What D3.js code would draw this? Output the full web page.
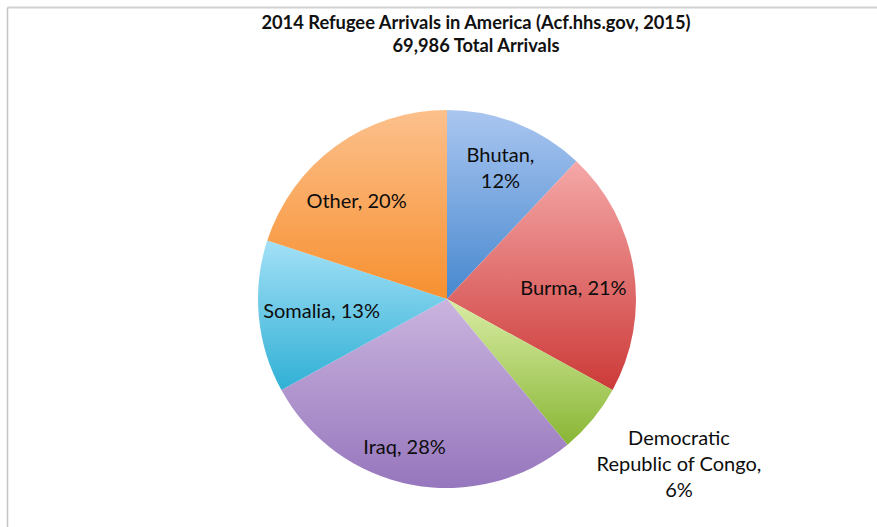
<!DOCTYPE html>
<html>
<head>
<meta charset="utf-8">
<script src="https://cdn.jsdelivr.net/npm/d3@7"></script>
<style>
  body { margin: 0; background: #fff; }
  svg { display: block; }
</style>
</head>
<body>
<svg id="chart"></svg>
<script>
const countries = ['Bhutan', 'Burma', 'Democratic Republic of Congo', 'Iraq', 'Somalia', 'Other']
const shares = [12, 21, 6, 28, 13, 20]   // percent of 69,986 arrivals
const titleLines = ['2014 Refugee Arrivals in America (Acf.hhs.gov, 2015)', '69,986 Total Arrivals']

// top / bottom gradient colours per slice
const topColors = ['#aac6f0', '#f5a8a8', '#d9eca4', '#cab4de', '#a3e0f6', '#fcc08c']
const bottomColors = ['#4788cf', '#cc3a38', '#88b634', '#9676bd', '#30b0d5', '#f79030']

const width = 877, height = 527
const cx = 447, cy = 299, radius = 189

const svg = d3.select('#chart')
    .attr('width', width)
    .attr('height', height)

// frame lines (top + left)
svg.append('line').attr('x1', 7.5).attr('x2', width).attr('y1', 7.5).attr('y2', 7.5)
    .attr('stroke', '#d2d2d2').attr('stroke-width', 2)
svg.append('line').attr('x1', 7.5).attr('x2', 7.5).attr('y1', 7.5).attr('y2', height)
    .attr('stroke', '#c4c4c4').attr('stroke-width', 1.5)

const data = countries.map((c, i) => ({name: c, value: shares[i], i: i}))
const total = d3.sum(shares)

const defs = svg.append('defs')
data.forEach(d => {
    const g = defs.append('linearGradient')
        .attr('id', 'grad' + d.i)
        .attr('x1', 0).attr('y1', 0).attr('x2', 0).attr('y2', 1)
    g.append('stop').attr('offset', '0%').attr('stop-color', topColors[d.i])
    g.append('stop').attr('offset', '100%').attr('stop-color', bottomColors[d.i])
})

const pie = d3.pie().sort(null).value(d => d.value)
const arc = d3.arc().innerRadius(0).outerRadius(radius)
const arcs = pie(data)

const g = svg.append('g').attr('transform', 'translate(' + cx + ',' + cy + ')')

g.selectAll('path')
    .data(arcs)
    .enter()
    .append('path')
    .attr('d', arc)
    .attr('fill', d => 'url(#grad' + d.data.i + ')')

// label placement: radius along mid angle, then nudge (DRC sits outside)
const labelPos = {
    'Bhutan': [137, 3, -4],
    'Burma': [128, 0, 9],
    'Democratic Republic of Congo': [266, 27, -5],
    'Iraq': [152, -14, -1],
    'Somalia': [126, 0, 0],
    'Other': [130, -14, 7]
}
const labelLines = d => {
    const pct = Math.round(d.data.value / total * 100) + '%'
    if (d.data.name === 'Bhutan') return ['Bhutan,', pct]
    if (d.data.name === 'Democratic Republic of Congo') return ['Democratic', 'Republic of Congo,', pct]
    return [d.data.name + ', ' + pct]
}
const lineH = 26

arcs.forEach(d => {
    const a = (d.startAngle + d.endAngle) / 2
    const p = labelPos[d.data.name]
    const x = Math.sin(a) * p[0] + p[1], y = -Math.cos(a) * p[0] + p[2]
    const lines = labelLines(d)
    const t = g.append('text')
        .attr('text-anchor', 'middle')
        .attr('font-family', 'Lato, "Open Sans", sans-serif')
        .attr('font-size', '20px')
        .attr('fill', '#0d0d0d')
    lines.forEach((l, k) => {
        t.append('tspan')
            .attr('x', x)
            .attr('y', y + (k - (lines.length - 1) / 2) * lineH + 7)
            .text(l)
    })
})

svg.selectAll('.title')
    .data(titleLines)
    .enter()
    .append('text')
    .attr('class', 'title')
    .attr('x', 476)
    .attr('y', (d, i) => 29 + i * 23)
    .attr('text-anchor', 'middle')
    .attr('font-family', 'Lato, "Open Sans", sans-serif')
    .attr('font-weight', 'bold')
    .attr('font-size', '18.3px')
    .attr('fill', '#111')
    .text(d => d)
</script>
</body>
</html>
